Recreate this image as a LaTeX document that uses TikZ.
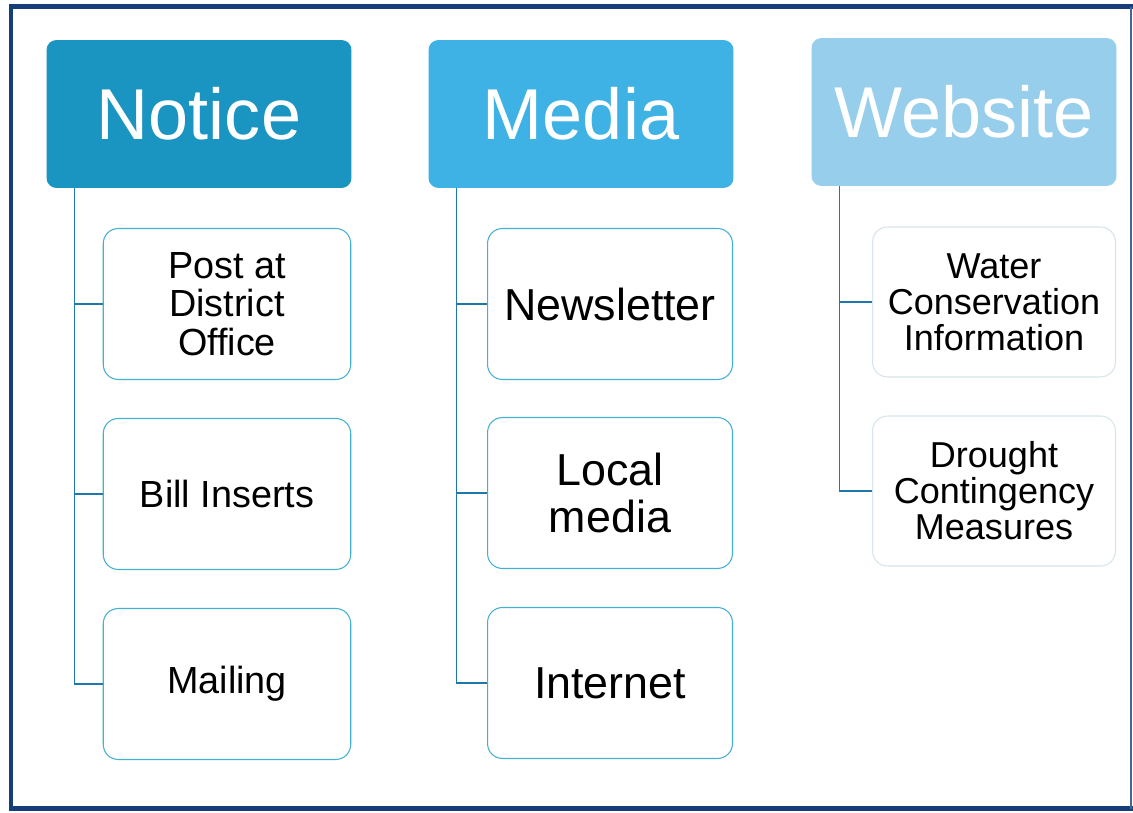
\documentclass[tikz,border=0pt]{standalone}
\usepackage{fontspec}
\setmainfont{Liberation Sans}
\usepackage{tikz}

\definecolor{frameblue}{RGB}{22,62,120}
\definecolor{noticeblue}{RGB}{26,148,192}
\definecolor{mediablue}{RGB}{62,178,228}
\definecolor{webblue}{RGB}{150,206,236}
\definecolor{itemline}{RGB}{70,176,210}
\definecolor{webline}{RGB}{214,230,236}
\definecolor{treeline}{RGB}{30,120,170}

\begin{document}
\begin{tikzpicture}[x=0.02cm,y=-0.02cm,
		head/.style={rounded corners=0.2cm,minimum width=6.1cm,minimum height=2.96cm,
			text=white,font=\fontsize{41}{41}\selectfont},
		item/.style={draw=itemline,line width=0.6pt,rounded corners=0.3cm,fill=white,
			minimum width=4.95cm,minimum height=3.02cm,align=center},
		tree/.style={draw=treeline,line width=0.7pt}]
		\useasboundingbox (0,0) rectangle (1133,813);
		\fill[white] (0,0) rectangle (1133,813);
		\draw[frameblue,line width=0.1cm,line cap=rect] (1131,7) -- (11,7) -- (11,809) -- (1131,809);
		\draw[frameblue!80,line width=0.7pt] (1131,7) -- (1131,809);
		% column 1
		\node[head,fill=noticeblue] (notice) at (199,114) {Notice};
		\node[item,font=\fontsize{21.5}{22}\selectfont] (post) at (227,304) {Post at\\District\\Office};
		\node[item,font=\fontsize{21.5}{22}\selectfont] (bill) at (227,494) {Bill Inserts};
		\node[item,font=\fontsize{21.5}{22}\selectfont] (mail) at (227,684) {Mailing};
		% column 2
		\node[head,fill=mediablue] (media) at (581,114) {Media};
		\node[item,minimum width=4.9cm,font=\fontsize{25.5}{26.5}\selectfont] (news) at (610,304) {Newsletter};
		\node[item,minimum width=4.9cm,font=\fontsize{25.5}{26.5}\selectfont] (local) at (610,493) {Local\\media};
		\node[item,minimum width=4.9cm,font=\fontsize{25.5}{26.5}\selectfont] (inet) at (610,683) {Internet};
		% column 3
		\node[head,fill=webblue] (web) at (964,112) {Website};
		\node[item,draw=webline,minimum width=4.86cm,minimum height=3cm,font=\fontsize{20.5}{20.5}\selectfont] (water) at (994,302) {Water\\Conservation\\Information};
		\node[item,draw=webline,minimum width=4.86cm,minimum height=3cm,font=\fontsize{20.5}{20.5}\selectfont] (drought) at (994,491) {Drought\\Contingency\\Measures};
		% connectors
		\draw[tree] ([xshift=0.56cm]notice.south west) |- (post.west);
		\draw[tree] ([xshift=0.56cm]notice.south west) |- (bill.west);
		\draw[tree] ([xshift=0.56cm]notice.south west) |- (mail.west);
		\draw[tree] ([xshift=0.56cm]media.south west) |- (news.west);
		\draw[tree] ([xshift=0.56cm]media.south west) |- (local.west);
		\draw[tree] ([xshift=0.56cm]media.south west) |- (inet.west);
		\draw[tree] ([xshift=0.56cm]web.south west) |- (water.west);
		\draw[tree] ([xshift=0.56cm]web.south west) |- (drought.west);
\end{tikzpicture}
\end{document}
